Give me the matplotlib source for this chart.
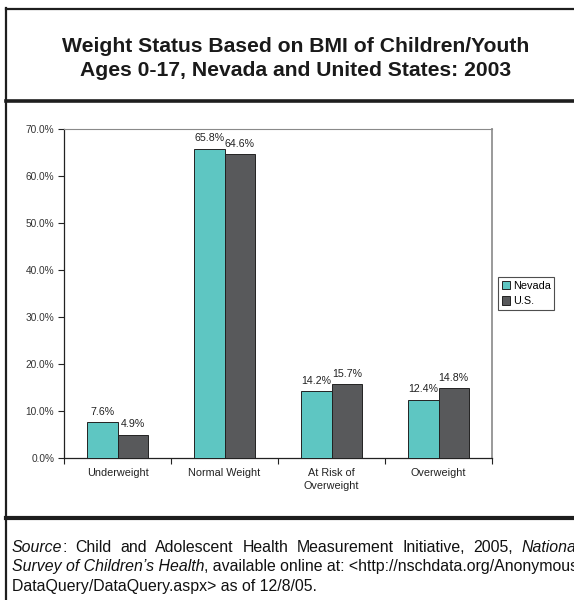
import matplotlib
matplotlib.use("Agg")
import matplotlib.pyplot as plt
from matplotlib.lines import Line2D
from matplotlib.patches import Patch
import numpy as np

plt.rcParams['font.family'] = ['Liberation Sans', 'DejaVu Sans']

categories = ["Underweight", "Normal Weight", "At Risk of\nOverweight", "Overweight"]
nevada = [7.6, 65.8, 14.2, 12.4]
us = [4.9, 64.6, 15.7, 14.8]
series_names = ["Nevada", "U.S."]
yticks = [0, 10, 20, 30, 40, 50, 60, 70]

title = "Weight Status Based on BMI of Children/Youth\nAges 0-17, Nevada and United States: 2003"

W, H = 574, 600
fig = plt.figure(figsize=(W / 100, H / 100), dpi=100)

def fx(px):
    return px / W

def fy(py):
    return 1 - py / H

# axes
ax_l, ax_r, ax_t, ax_b = 64, 492, 129, 458
ax = fig.add_axes([fx(ax_l), fy(ax_b), (ax_r - ax_l) / W, (ax_b - ax_t) / H])

x = np.arange(len(categories))
bw = 0.285
c_nv = "#5EC6C2"
c_us = "#58595B"
b1 = ax.bar(x - bw / 2, nevada, bw, color=c_nv, edgecolor="#222222", linewidth=0.7, zorder=3)
b2 = ax.bar(x + bw / 2, us, bw, color=c_us, edgecolor="#222222", linewidth=0.7, zorder=3)

for bars, vals in ((b1, nevada), (b2, us)):
    for rect, v in zip(bars, vals):
        ax.annotate(f"{v:.1f}%", (rect.get_x() + rect.get_width() / 2, v),
                    xytext=(0, 4), textcoords="offset points",
                    ha="center", va="bottom", fontsize=7.7, color="#222222")

ax.set_xlim(-0.5, len(categories) - 0.5)
ax.set_ylim(0, 70)
ax.set_yticks(yticks)
ax.set_yticklabels([f"{t:.1f}%" for t in yticks], fontsize=7.3, color="#333333")
ax.set_xticks(np.arange(-0.5, len(categories), 1.0))
ax.set_xticklabels([])
ax.set_xticks(x, minor=True)
ax.set_xticklabels(categories, minor=True, fontsize=7.8, color="#222222", linespacing=1.45)
ax.tick_params(axis="x", which="minor", length=0, pad=7)
ax.tick_params(axis="x", which="major", length=4, width=0.8, direction="out", color="#222222")
ax.tick_params(axis="y", length=4, width=0.8, direction="out", color="#222222", pad=3)

ax.spines["left"].set_color("#222222")
ax.spines["bottom"].set_color("#222222")
ax.spines["left"].set_linewidth(0.9)
ax.spines["bottom"].set_linewidth(0.9)
ax.spines["top"].set_color("#8a8a8a")
ax.spines["right"].set_color("#9a9a9a")
ax.spines["right"].set_linewidth(1.4)

handles = [Patch(facecolor=c_nv, edgecolor="#222222", linewidth=0.7),
           Patch(facecolor=c_us, edgecolor="#222222", linewidth=0.7)]
leg = ax.legend(handles, series_names, loc="upper left",
                bbox_to_anchor=((498 - ax_l) / (ax_r - ax_l), (ax_b - 277) / (ax_b - ax_t)),
                borderaxespad=0, fontsize=7.8, frameon=True, fancybox=False,
                handlelength=0.8, handleheight=0.8, handletextpad=0.2,
                borderpad=0.35, labelspacing=0.5)
leg.get_frame().set_edgecolor("#222222")
leg.get_frame().set_linewidth(0.8)

# frame lines
dark = "#1e1e1e"
fig.add_artist(Line2D([fx(6), fx(6)], [fy(8), fy(600)], color=dark, linewidth=1.6))
fig.add_artist(Line2D([fx(6), fx(574)], [fy(8.5), fy(8.5)], color=dark, linewidth=1.6))
fig.add_artist(Line2D([fx(6), fx(574)], [fy(101), fy(101)], color=dark, linewidth=2.6))
fig.add_artist(Line2D([fx(6), fx(574)], [fy(518), fy(518)], color=dark, linewidth=3.0))

# title
fig.text(fx(296), fy(58.5), title, ha="center", va="center", fontsize=15.2,
         fontweight="bold", color="#1a1a1a", linespacing=1.3)

# source text (justified first line, the right margin lies past the picture's edge)
fs = 11.4
tc = "#111111"
renderer = fig.canvas.get_renderer()

def seg_width(s, style):
    t = fig.text(0, 0, s, fontsize=fs, style=style)
    w = t.get_window_extent(renderer=renderer).width
    t.remove()
    return w

def justified(words, y, x0, x1):
    widths = [sum(seg_width(s, st) for s, st in w) for w in words]
    gap = (x1 - x0 - sum(widths)) / (len(words) - 1)
    xp = x0
    for w, wd in zip(words, widths):
        xs = xp
        for s, st in w:
            t = fig.text(fx(xs), fy(y), s, ha="left", va="center", fontsize=fs, style=st, color=tc)
            xs += t.get_window_extent(renderer=renderer).width
        xp += wd + gap

N, I = "normal", "italic"
line1 = [[("Source", I), (":", N)], [("Child", N)], [("and", N)], [("Adolescent", N)],
         [("Health", N)], [("Measurement", N)], [("Initiative,", N)], [("2005,", N)],
         [("National", I)]]
justified(line1, 547, 12, 580)

t = fig.text(fx(12), fy(567), "Survey of Children\u2019s Health", ha="left", va="center",
             fontsize=fs, style="italic", color=tc)
bb = t.get_window_extent(renderer=renderer)
fig.text(bb.x1 / W, fy(567), ", available online at: <http://nschdata.org/Anonymous",
         ha="left", va="center", fontsize=fs, color=tc)
fig.text(fx(12), fy(586), "DataQuery/DataQuery.aspx> as of 12/8/05.", ha="left", va="center",
         fontsize=fs, color=tc)

fig.savefig("out.png", dpi=100)
